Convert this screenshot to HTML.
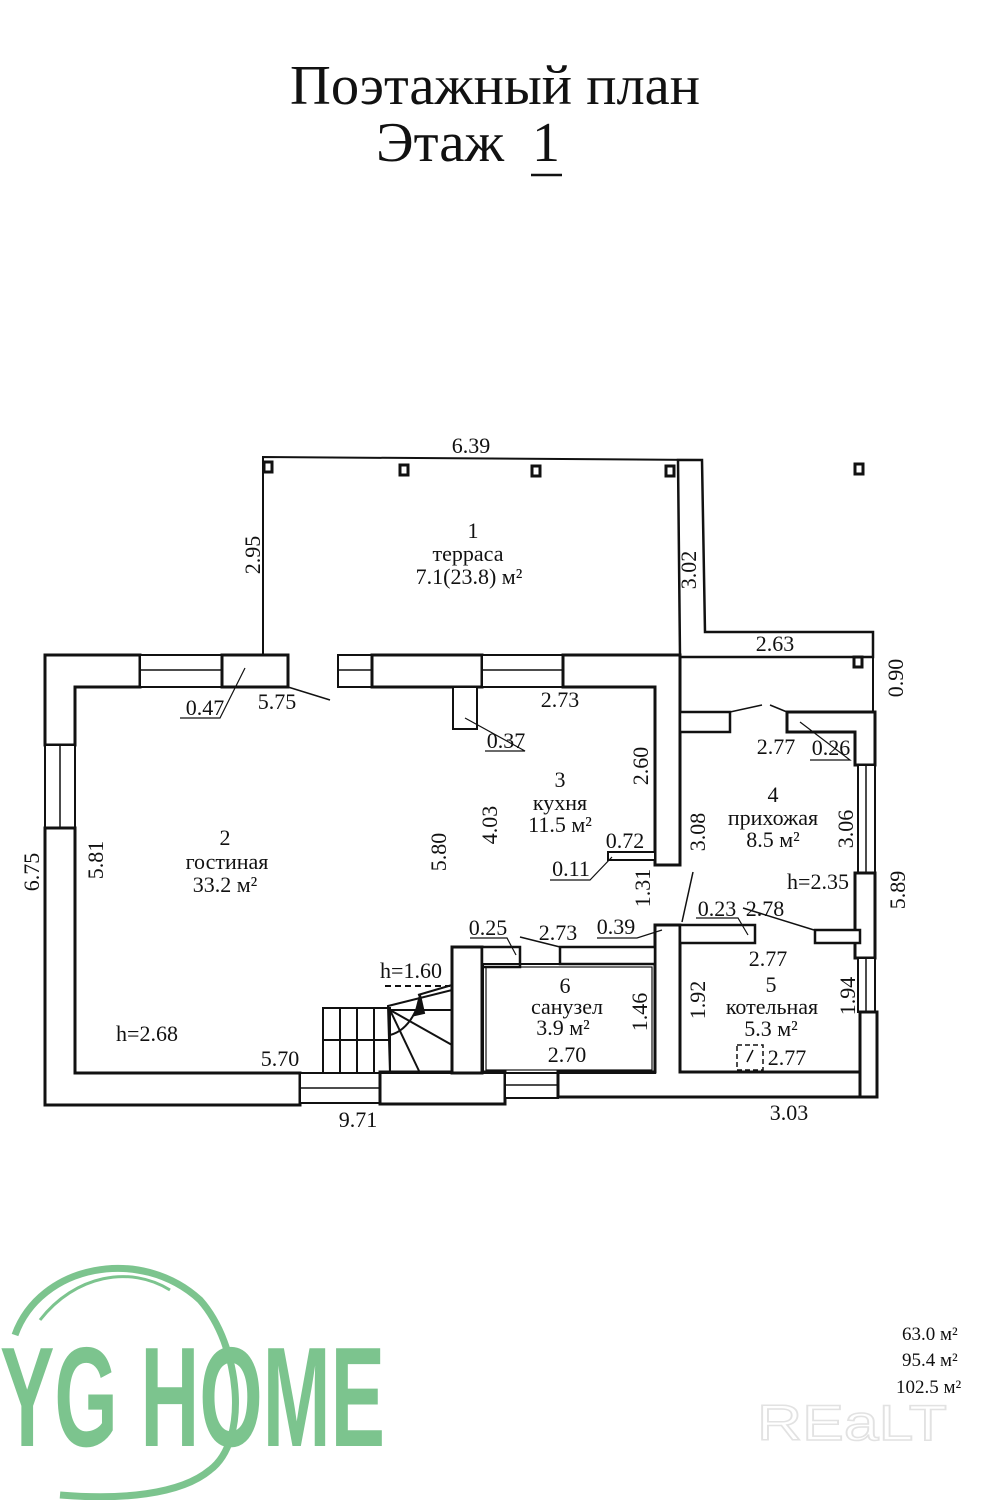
<!DOCTYPE html>
<html><head><meta charset="utf-8"><style>
html,body{margin:0;padding:0;background:#fff;}
svg{display:block;}
text{font-family:"Liberation Serif",serif;}
</style></head><body>
<svg width="1000" height="1500" viewBox="0 0 1000 1500" xmlns="http://www.w3.org/2000/svg">
<!-- Title -->
<text x="290" y="104" font-size="56" fill="#111" textLength="410" lengthAdjust="spacingAndGlyphs">Поэтажный план</text>
<text x="376" y="161" font-size="56" fill="#111" textLength="128" lengthAdjust="spacingAndGlyphs">Этаж</text>
<text x="532" y="161" font-size="56" fill="#111">1</text>
<line x1="531" y1="175" x2="562" y2="175" stroke="#111" stroke-width="2.5"/>

<g fill="#fff" stroke="#111" stroke-width="3">
<polyline points="263,655 263,457 702,460" fill="none" stroke-width="2"/>
<polygon points="678,460 702,460 705,632 873,632 873,657 680,657" stroke-width="2.5"/>
<line x1="680" y1="657" x2="680" y2="712" stroke-width="2"/>
<line x1="873" y1="657" x2="873" y2="712" stroke-width="2"/>

<polygon points="45,655 140,655 140,687 75,687 75,745 45,745"/>
<rect x="45" y="745" width="30" height="83" stroke-width="2"/>
<line x1="60" y1="745" x2="60" y2="828" stroke-width="1.5"/>
<polygon points="45,828 75,828 75,1073 300,1073 300,1105 45,1105"/>
<rect x="140" y="655" width="82" height="32" stroke-width="2"/>
<line x1="140" y1="670" x2="222" y2="670" stroke-width="1.5"/>
<rect x="222" y="655" width="66" height="32"/>
<rect x="338" y="655" width="34" height="32" stroke-width="2"/>
<line x1="338" y1="670" x2="372" y2="670" stroke-width="1.5"/>
<rect x="372" y="655" width="110" height="32"/>
<rect x="482" y="655" width="81" height="32" stroke-width="2"/>
<line x1="482" y1="670" x2="563" y2="670" stroke-width="1.5"/>
<polygon points="563,655 680,655 680,865 655,865 655,687 563,687"/>
<rect x="453" y="687" width="24" height="42" stroke-width="2"/>
<rect x="300" y="1073" width="80" height="30" stroke-width="2"/>
<line x1="300" y1="1088" x2="380" y2="1088" stroke-width="1.5"/>
<rect x="380" y="1072" width="125" height="32"/>
<rect x="505" y="1073" width="53" height="25" stroke-width="2"/>
<line x1="505" y1="1085" x2="558" y2="1085" stroke-width="1.5"/>
<polygon points="558,1072 655,1072 655,925 680,925 680,1072 875,1072 875,1097 558,1097"/>
<rect x="680" y="712" width="50" height="20" stroke-width="2.5"/>
<polygon points="787,712 875,712 875,765 855,765 855,732 787,732"/>
<rect x="858" y="765" width="17" height="108" stroke-width="2"/>
<line x1="866" y1="765" x2="866" y2="873" stroke-width="1.5"/>
<rect x="855" y="873" width="20" height="85"/>
<rect x="858" y="958" width="17" height="54" stroke-width="2"/>
<line x1="866" y1="958" x2="866" y2="1012" stroke-width="1.5"/>
<rect x="860" y="1012" width="17" height="85"/>
<rect x="680" y="925" width="75" height="18" stroke-width="2.5"/>
<rect x="815" y="930" width="45" height="13" stroke-width="2.5"/>
<rect x="608" y="852" width="47" height="8" stroke-width="2"/>
<rect x="452" y="947" width="30" height="126"/>
<rect x="482" y="947" width="38" height="20" stroke-width="2.5"/>
<rect x="560" y="947" width="95" height="17" stroke-width="2.5"/>
<rect x="483" y="964" width="172" height="109" fill="none" stroke-width="2"/>
<rect x="486" y="967" width="166" height="103" fill="none" stroke-width="1.2"/>
</g>
<g fill="#fff" stroke="#111" stroke-width="3">
<rect x="264" y="462" width="8" height="10"/>
<rect x="400" y="465" width="8" height="10"/>
<rect x="532" y="466" width="8" height="10"/>
<rect x="666" y="466" width="8" height="10"/>
<rect x="855" y="464" width="8" height="10"/>
<rect x="854" y="657" width="8" height="10"/>
</g>
<g stroke="#111" stroke-width="2" fill="none">
<rect x="323" y="1008" width="67" height="65"/>
<line x1="340" y1="1008" x2="340" y2="1073"/>
<line x1="357" y1="1008" x2="357" y2="1073"/>
<line x1="374" y1="1008" x2="374" y2="1073"/>
<line x1="323" y1="1040" x2="390" y2="1040"/>
<path d="M388,1006 L452,990 L452,1073 L390,1073 Z"/>
<line x1="418" y1="995" x2="452" y2="985"/>
<line x1="390" y1="1010" x2="452" y2="1010"/>
<line x1="390" y1="1010" x2="452" y2="1045"/>
<line x1="390" y1="1010" x2="420" y2="1073"/>
<path d="M390,1035 Q410,1030 420,1000" />
<line x1="385" y1="986" x2="450" y2="986" stroke-dasharray="6,4"/>
<polygon points="415,1015 420,995 424,1013" fill="#111"/>
<line x1="288" y1="687" x2="330" y2="700" stroke-width="1.5"/>
<line x1="730" y1="712" x2="762" y2="705" stroke-width="1.5"/>
<line x1="787" y1="712" x2="770" y2="705" stroke-width="1.5"/>
<line x1="682" y1="922" x2="693" y2="872" stroke-width="1.5"/>
<line x1="743" y1="908" x2="814" y2="930" stroke-width="1.5"/>
<line x1="520" y1="937" x2="560" y2="947" stroke-width="1.5"/>
<polyline points="180,718 220,718 245,668" stroke-width="1.2"/>
<polyline points="485,751 525,751 465,718" stroke-width="1.2"/>
<polyline points="550,880 590,880 612,857" stroke-width="1.2"/>
<polyline points="597,938 637,938 662,930" stroke-width="1.2"/>
<polyline points="470,938 507,938 516,955" stroke-width="1.2"/>
<polyline points="696,918 738,918 748,935" stroke-width="1.2"/>
<polyline points="810,760 850,760 800,722" stroke-width="1.2"/>
<rect x="737" y="1045" width="26" height="25" stroke-dasharray="5,3" stroke-width="1.5"/>
<line x1="747" y1="1062" x2="753" y2="1050" stroke-width="1.5"/>
</g>
<g font-size="22" text-anchor="middle" fill="#111">
<text x="471" y="453">6.39</text>
<text x="473" y="538">1</text>
<text x="468" y="561">терраса</text>
<text x="469" y="584">7.1(23.8) м²</text>
<text x="775" y="651">2.63</text>
<text x="205" y="715">0.47</text>
<text x="277" y="709">5.75</text>
<text x="560" y="707">2.73</text>
<text x="506" y="748">0.37</text>
<text x="560" y="787">3</text>
<text x="560" y="810">кухня</text>
<text x="560" y="832">11.5 м²</text>
<text x="625" y="848">0.72</text>
<text x="571" y="876">0.11</text>
<text x="225" y="845">2</text>
<text x="227" y="869">гостиная</text>
<text x="225" y="892">33.2 м²</text>
<text x="776" y="754">2.77</text>
<text x="831" y="755">0.26</text>
<text x="773" y="802">4</text>
<text x="773" y="825">прихожая</text>
<text x="773" y="847">8.5 м²</text>
<text x="818" y="889">h=2.35</text>
<text x="717" y="916">0.23</text>
<text x="765" y="916">2.78</text>
<text x="488" y="935">0.25</text>
<text x="558" y="940">2.73</text>
<text x="616" y="934">0.39</text>
<text x="768" y="966">2.77</text>
<text x="771" y="992">5</text>
<text x="772" y="1014">котельная</text>
<text x="771" y="1036">5.3 м²</text>
<text x="787" y="1065">2.77</text>
<text x="565" y="993">6</text>
<text x="567" y="1014">санузел</text>
<text x="563" y="1035">3.9 м²</text>
<text x="567" y="1062">2.70</text>
<text x="411" y="978">h=1.60</text>
<text x="147" y="1041">h=2.68</text>
<text x="280" y="1066">5.70</text>
<text x="358" y="1127">9.71</text>
<text x="789" y="1120">3.03</text>
</g>
<g font-size="22" text-anchor="middle" fill="#111">
<text transform="translate(260,555) rotate(-90)">2.95</text>
<text transform="translate(696,570) rotate(-90)">3.02</text>
<text transform="translate(903,678) rotate(-90)">0.90</text>
<text transform="translate(648,766) rotate(-90)">2.60</text>
<text transform="translate(497,825) rotate(-90)">4.03</text>
<text transform="translate(446,852) rotate(-90)">5.80</text>
<text transform="translate(39,872) rotate(-90)">6.75</text>
<text transform="translate(103,860) rotate(-90)">5.81</text>
<text transform="translate(705,832) rotate(-90)">3.08</text>
<text transform="translate(853,829) rotate(-90)">3.06</text>
<text transform="translate(905,890) rotate(-90)">5.89</text>
<text transform="translate(650,888) rotate(-90)">1.31</text>
<text transform="translate(647,1012) rotate(-90)">1.46</text>
<text transform="translate(705,1000) rotate(-90)">1.92</text>
<text transform="translate(855,996) rotate(-90)">1.94</text>
</g>
<!-- logo -->
<g fill="none" stroke="#7cc48e">
<path d="M15,1335 C40,1265 140,1245 200,1300 C240,1345 250,1440 210,1470 C180,1495 120,1500 60,1495" stroke-width="7"/>
<path d="M40,1320 C75,1275 130,1265 170,1290" stroke-width="3"/>
</g>
<text x="0" y="1446" font-size="142" font-weight="bold" style="font-family:'Liberation Sans Narrow','Liberation Sans',sans-serif;fill:#7cc48e" textLength="385" lengthAdjust="spacingAndGlyphs">YG HOME</text>
<g font-size="19" fill="#111">
<text x="902" y="1340">63.0  м²</text>
<text x="902" y="1366">95.4  м²</text>
<text x="896" y="1393">102.5  м²</text>
</g>
<text x="757" y="1440" font-size="50" style="font-family:'Liberation Sans',sans-serif;fill:none;stroke:#e2e2e2;stroke-width:1.5" textLength="190" lengthAdjust="spacingAndGlyphs">REaLT</text>
</svg>
</body></html>
